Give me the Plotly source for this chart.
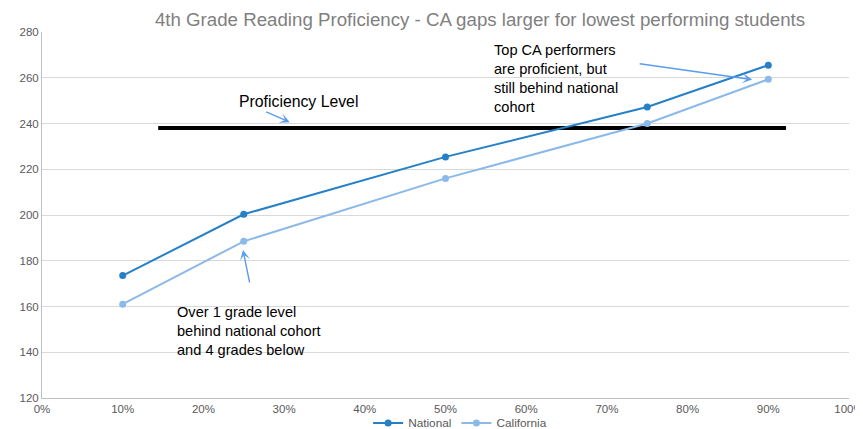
import plotly.graph_objects as go

percentiles = [0.10, 0.25, 0.50, 0.75, 0.90]
national = [173.5, 200.3, 225.4, 247.2, 265.5]
california = [161.0, 188.5, 216.0, 240.0, 259.3]
prof_x = [0.144, 0.922]
prof_y = [238, 238]

fig = go.Figure()
fig.add_trace(go.Scatter(x=prof_x, y=prof_y, mode="lines", line=dict(color="black", width=4),
                         showlegend=False, hoverinfo="skip"))
fig.add_trace(go.Scatter(x=percentiles, y=national, mode="lines+markers", name="National",
                         line=dict(color="#2580C8", width=2), marker=dict(size=7, color="#2580C8")))
fig.add_trace(go.Scatter(x=percentiles, y=california, mode="lines+markers", name="California",
                         line=dict(color="#8BB9E9", width=2), marker=dict(size=7, color="#8BB9E9")))

font = "Liberation Sans, Arial, sans-serif"
arrow_col = "#5A9CEE"
W, H = 855, 421
fig.update_layout(
    width=W, height=H,
    margin=dict(l=34, r=14, t=24, b=31, autoexpand=False),
    paper_bgcolor="white", plot_bgcolor="white",
    font=dict(family=font, color="#595959", size=11),
    title=dict(text="4th Grade Reading Proficiency - CA gaps larger for lowest performing students",
               x=472/W, xanchor="center", y=1-11/H, yanchor="middle",
               font=dict(size=18.7, color="#7F7F7F", family=font), automargin=False),
    xaxis=dict(range=[0, 1], tickvals=[i/10 for i in range(11)], tickformat=".0%",
               showgrid=False, showline=True, linecolor="#BFBFBF", linewidth=1,
               ticks="", zeroline=False, tickfont=dict(size=11.5, color="#595959"),
               automargin=False, ticklabeloverflow="allow"),
    yaxis=dict(range=[120, 280], dtick=20, showgrid=True, gridcolor="#D9D9D9",
               showline=True, linecolor="#BFBFBF", zeroline=False, ticks="",
               tickfont=dict(size=11.5, color="#595959"), automargin=False),
    legend=dict(orientation="h", x=443/W, xanchor="center", y=-0.068, yanchor="middle",
                font=dict(size=11.8, color="#595959"), itemwidth=30, bgcolor="rgba(0,0,0,0)"),
    showlegend=True,
)

# arrows
arrow_style = dict(showarrow=True, arrowhead=3, arrowsize=1.2, arrowwidth=1.4, arrowcolor=arrow_col,
                   xref="x", yref="y", text="")
fig.add_annotation(x=0.307, y=240.6, ax=-25, ay=-11, **arrow_style)
fig.add_annotation(x=0.88, y=259.2, ax=-114, ay=-16, **arrow_style)
fig.add_annotation(x=0.249, y=184.7, ax=7, ay=34, **arrow_style)

# texts
fig.add_annotation(x=0.2416, y=249.8, xref="x", yref="y", xanchor="left", yanchor="middle",
                   text="Proficiency Level", showarrow=False,
                   font=dict(size=15.8, color="black", family=font))
fig.add_annotation(x=0.558, y=276.5, xref="x", yref="y", xanchor="left", yanchor="top", align="left",
                   text="Top CA performers<br>are proficient, but<br>still behind national<br>cohort",
                   showarrow=False, font=dict(size=14.6, color="black", family=font))
fig.add_annotation(x=0.165, y=162, xref="x", yref="y", xanchor="left", yanchor="top", align="left",
                   text="Over 1 grade level<br>behind national cohort<br>and 4 grades below",
                   showarrow=False, font=dict(size=14.6, color="black", family=font))

fig.write_html("out.html")
